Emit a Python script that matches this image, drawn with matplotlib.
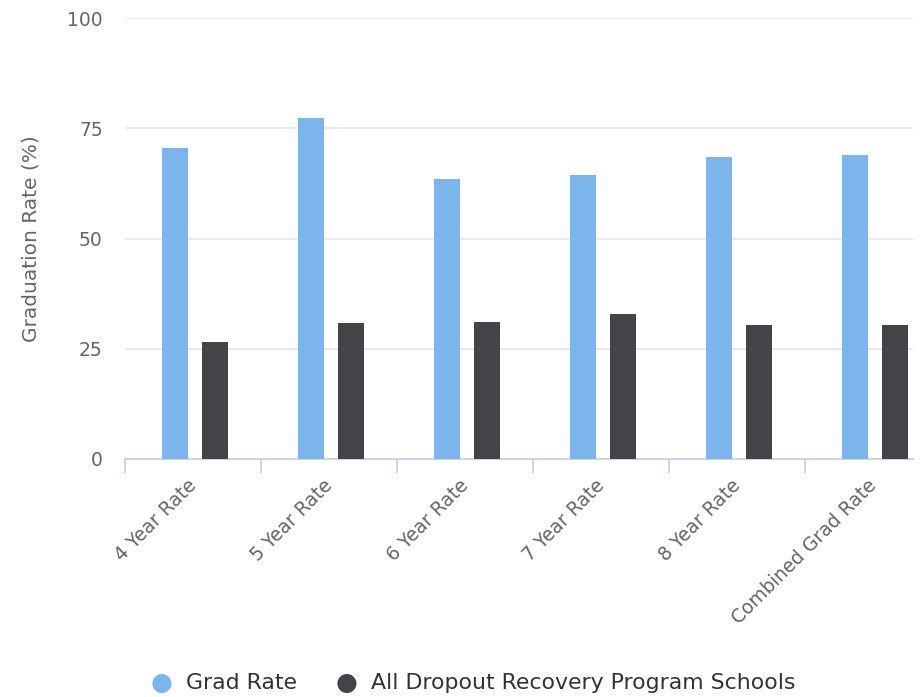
import matplotlib.pyplot as plt
import matplotlib.transforms as mtransforms
import numpy as np

categories = ["4 Year Rate", "5 Year Rate", "6 Year Rate", "7 Year Rate", "8 Year Rate", "Combined Grad Rate"]
grad_rate = [70.5, 77.3, 63.5, 64.4, 68.5, 68.9]
dropout_schools = [26.5, 30.8, 31.1, 32.9, 30.4, 30.4]
series_names = ["Grad Rate", "All Dropout Recovery Program Schools"]

plt.rcParams['font.family'] = ['DejaVu Sans']

W, H = 921, 697
fig = plt.figure(figsize=(W / 100, H / 100), dpi=100)
# plot area in pixels: x 125..913, y 18..459
ax = fig.add_axes([125 / W, 1 - 459 / H, (913 - 125) / W, (459 - 18) / H])

x = np.arange(len(categories))
ax.bar(x - 0.132, grad_rate, width=0.191, color="#7cb5ec", zorder=3)
ax.bar(x + 0.162, dropout_schools, width=0.191, color="#434348", zorder=3)

ax.set_yticks([0, 25, 50, 75, 100])
ax.yaxis.grid(True, color="#e6e6e6", linewidth=1.2, zorder=0)
ax.tick_params(axis='y', length=0, pad=16, labelsize=13.5, labelcolor="#666666")

for s in ["top", "right", "left"]:
    ax.spines[s].set_visible(False)
ax.spines["bottom"].set_color("#ccd6eb")
ax.spines["bottom"].set_linewidth(1.5)

# category boundary ticks
ax.set_xticks(np.arange(len(categories)) - 0.5, minor=False)
ax.set_xticklabels([])
ax.tick_params(axis='x', which='major', length=10, width=1.5, color="#ccd6eb")
ax.set_xticks(x, minor=True)
ax.set_xticklabels(categories, minor=True, rotation=45, ha="right", rotation_mode="anchor",
                   fontsize=13.5, color="#666666")
ax.tick_params(axis='x', which='minor', length=0, pad=14)
shift = mtransforms.ScaledTranslation(-6 / 100, 3 / 100, fig.dpi_scale_trans)
for lbl in ax.get_xticklabels(minor=True):
    lbl.set_transform(lbl.get_transform() + shift)

ax.set_xlim(-0.5, -0.5 + (913 - 125) / 136)
ax.set_ylim(0, 100)

ax.set_ylabel("Graduation Rate (%)", fontsize=14.5, color="#666666")
ax.yaxis.set_label_coords(-84 / 788, 0.5)

# legend
fig.text(162 / W, 1 - 683 / H, "\u25CF", color="#7cb5ec", fontsize=18, ha="center", va="center")
fig.text(186 / W, 1 - 683 / H, series_names[0], color="#333333", fontsize=15.8, va="center")
fig.text(347 / W, 1 - 683 / H, "\u25CF", color="#434348", fontsize=18, ha="center", va="center")
fig.text(371 / W, 1 - 683 / H, series_names[1], color="#333333", fontsize=15.8, va="center")

fig.savefig("out.png", dpi=100)
